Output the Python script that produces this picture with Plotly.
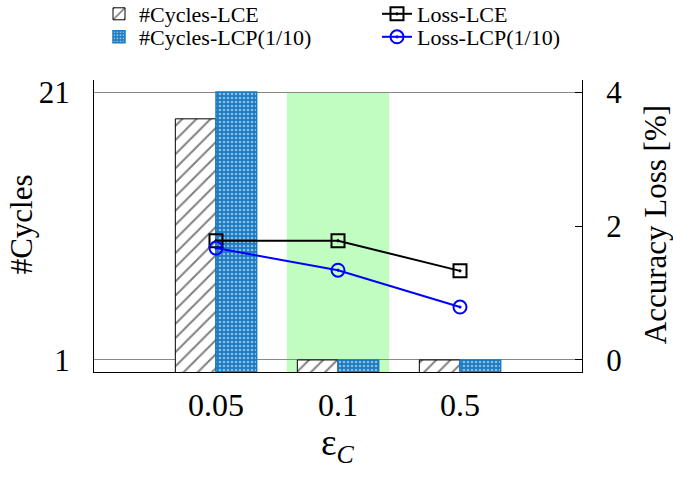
import plotly.graph_objects as go

categories = ["0.05", "0.1", "0.5"]
cat_pos = [1, 2, 3]
cycles_lce = [19, 1, 1]
cycles_lcp = [21, 1, 1]
loss_lce = [1.78, 1.78, 1.33]
loss_lcp = [1.67, 1.34, 0.79]
highlight_cat = 2
highlight_halfwidth = 0.42

FONT = "Liberation Serif"
BLUE = "#1a7bc2"
bar_w = 1 / 3
W, H = 673, 478

fig = go.Figure()

fig.add_trace(go.Bar(
    x=cat_pos, y=cycles_lce, name="#Cycles-LCE", offset=-bar_w, width=bar_w,
    marker=dict(color="white", line=dict(color="black", width=1),
                pattern=dict(shape="/", fgcolor="black", bgcolor="white", size=10, solidity=0.2)),
    legend="legend", yaxis="y",
))
fig.add_trace(go.Bar(
    x=cat_pos, y=cycles_lcp, name="#Cycles-LCP(1/10)", offset=0, width=bar_w,
    marker=dict(color=BLUE, line=dict(color=BLUE, width=1.5),
                pattern=dict(shape=".", fgcolor="white", bgcolor=BLUE, size=4, solidity=0.35)),
    legend="legend2", yaxis="y",
))
fig.add_trace(go.Scatter(
    x=cat_pos, y=loss_lce, name="Loss-LCE", mode="lines+markers", yaxis="y2",
    line=dict(color="black", width=2),
    marker=dict(symbol="square-open-dot", size=13, color="black", line=dict(width=2, color="black")),
    legend="legend3",
))
fig.add_trace(go.Scatter(
    x=cat_pos, y=loss_lcp, name="Loss-LCP(1/10)", mode="lines+markers", yaxis="y2",
    line=dict(color="#0000ff", width=2),
    marker=dict(symbol="circle-open-dot", size=13, color="#0000ff", line=dict(width=2, color="#0000ff")),
    legend="legend4",
))

fig.add_shape(type="rect", xref="x", yref="y",
              x0=highlight_cat - highlight_halfwidth, x1=highlight_cat + highlight_halfwidth,
              y0=0.1, y1=21, fillcolor="#c1fcc1", line=dict(width=0), layer="below")

def leg(xpx, ypx):
    return dict(xref="container", yref="container", x=xpx / W, y=1 - ypx / H,
                xanchor="left", yanchor="middle",
                font=dict(size=22, family=FONT), bgcolor="rgba(0,0,0,0)", itemwidth=30)

fig.add_annotation(text="#Cycles", xref="paper", yref="paper", x=-0.148, y=0.505,
                   xanchor="center", yanchor="middle", textangle=-90, showarrow=False,
                   font=dict(size=31, family=FONT))
fig.add_annotation(text="Accuracy Loss [%]", xref="paper", yref="paper", x=1.151, y=0.505,
                   xanchor="center", yanchor="middle", textangle=-90, showarrow=False,
                   font=dict(size=31, family=FONT))
fig.add_annotation(text="ε<sub><i>C</i></sub>", xref="paper", yref="paper", x=0.5, y=-0.25,
                   xanchor="center", yanchor="middle", showarrow=False,
                   font=dict(size=37, family=FONT))

fig.update_layout(
    width=W, height=H,
    margin=dict(l=94, r=91, t=80, b=106, autoexpand=False),
    paper_bgcolor="white", plot_bgcolor="white",
    font=dict(family=FONT, color="black"),
    barmode="overlay",
    showlegend=True,
    xaxis=dict(range=[0, 4], tickvals=cat_pos, ticktext=categories, tickangle=0,
               showline=True, linecolor="black", linewidth=1, ticks="", showgrid=False, zeroline=False,
               tickfont=dict(size=32, family=FONT), automargin=False, ticklabelstandoff=5),
    yaxis=dict(range=[0.1, 21.9], tickvals=[1, 21], ticktext=["1", "21"],
               showline=True, linecolor="black", linewidth=1, ticks="",
               showgrid=True, gridcolor="#888888", gridwidth=1, zeroline=False,
               tickfont=dict(size=31, family=FONT), ticklabelstandoff=17, automargin=False),
    yaxis2=dict(range=[-0.18, 4.18], tickvals=[0, 2, 4], overlaying="y", side="right",
                showline=True, linecolor="black", linewidth=1, ticks="inside", ticklen=7, tickcolor="black",
                showgrid=False, zeroline=False, automargin=False,
                tickfont=dict(size=31, family=FONT), ticklabelstandoff=17),
    legend=leg(99, 14),
    legend2=leg(99, 37),
    legend3=leg(377, 14),
    legend4=leg(377, 37),
)

fig.write_html("out.html", config={"displayModeBar": False},
               post_script="document.body.style.margin='0px';")
